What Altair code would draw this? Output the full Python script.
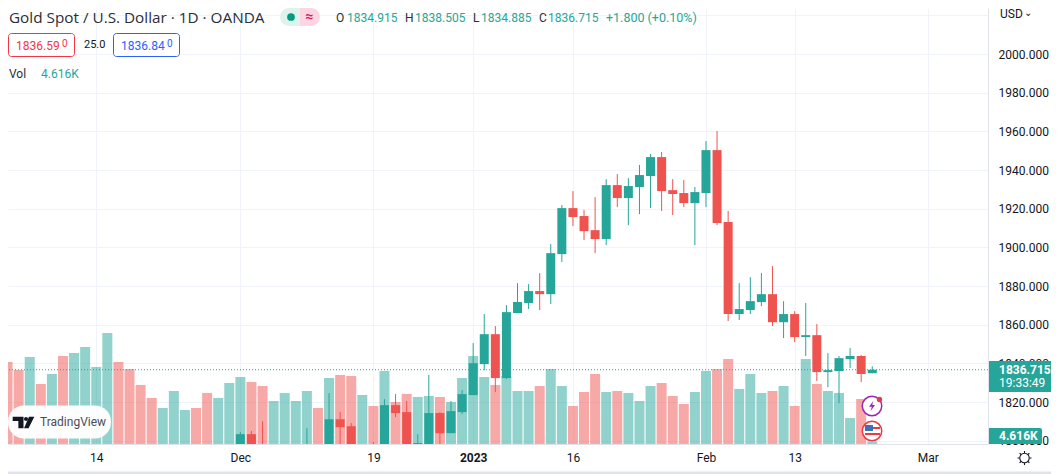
import altair as alt
import pandas as pd

# ---------- chart values ----------
volume_k = [157.7, 142.3, 167.3, 115.4, 134.6, 169.2, 175.0, 186.5, 148.1, 213.5,
            157.7, 144.2, 113.5, 88.5, 69.2, 101.9, 65.4, 69.2, 98.1, 88.5,
            117.3, 128.8, 119.2, 111.5, 82.7, 98.1, 82.7, 101.9, 69.2, 126.9,
            132.7, 130.8, 94.2, 73.1, 140.4, 80.8, 96.2, 90.4, 92.3, 90.4,
            80.8, 126.9, 169.2, 128.8, 113.5, 130.8, 101.9, 101.9, 111.5, 144.2,
            111.5, 73.1, 100.0, 134.6, 100.0, 101.9, 98.1, 82.7, 111.5, 117.3,
            92.3, 76.9, 100.0, 140.4, 144.2, 163.5, 105.8, 134.6, 98.1, 101.9,
            111.5, 73.1, 163.5, 115.4, 101.9, 98.1, 50.0, 86.5, 4.616]
direction = list("DDUDUDUUUU" "DDDDUUUDDU" "UUDDUUUUDU" "DDUDUDDUUD"
                 "UUUUDUUUDU" "UDDDUDUUUD" "DDUUDDUUUD" "UDUDUUUDU")

candle_start = 21
open_ = [1795, 1803.4, 1796, 1790, 1791, 1792, 1793, 1797, 1792, 1811.1,
         1807.5, 1795, 1796, 1790, 1818.4, 1814.8, 1797, 1796, 1814.3, 1803.9,
         1814.8, 1823.6, 1839.6, 1855.1, 1832.4, 1866.0, 1871.2, 1877.4, 1875.8, 1896.5,
         1920.3, 1916.2, 1908.9, 1904.3, 1932.2, 1925.5, 1931.2, 1936.9, 1946.7, 1929.6,
         1928.1, 1922.9, 1928.1, 1950.3, 1913.1, 1865.5, 1867.6, 1871.7, 1875.8, 1861.3,
         1865.5, 1853.6, 1854.6, 1835.5, 1836.0, 1842.2, 1843.8, 1834.915]
high = [1804.4, 1805.0, 1810.1, 1796, 1796, 1797, 1806.5, 1798, 1824.6, 1814.8,
        1809.1, 1797, 1799.3, 1821.5, 1824.1, 1820.5, 1803.4, 1834.0, 1814.8, 1820.5,
        1826.2, 1850.5, 1865.5, 1859.3, 1870.1, 1881.5, 1881.0, 1886.7, 1901.7, 1921.9,
        1929.1, 1919.3, 1926.0, 1935.3, 1937.9, 1935.8, 1942.6, 1948.3, 1949.3, 1935.3,
        1934.8, 1931.2, 1955.0, 1960.2, 1918.8, 1881.5, 1884.6, 1886.7, 1890.3, 1872.2,
        1867.0, 1871.2, 1860.3, 1845.3, 1843.8, 1847.9, 1844.3, 1838.505]
low = [1794, 1793, 1792, 1788, 1789, 1790, 1791, 1790, 1790, 1797,
       1795, 1788, 1787, 1788, 1812.2, 1795, 1792, 1794, 1797, 1803.9,
       1813.8, 1823.6, 1836.5, 1825.1, 1831.9, 1866.0, 1868.1, 1867.6, 1870.7, 1892.4,
       1911.0, 1903.8, 1897.0, 1901.2, 1920.8, 1911.5, 1917.2, 1920.3, 1918.8, 1916.7,
       1920.8, 1901.2, 1920.8, 1911.5, 1861.9, 1862.4, 1865.5, 1869.6, 1859.3, 1853.1,
       1851.0, 1843.8, 1830.9, 1827.7, 1819.4, 1837.6, 1830.3, 1834.885]
close = [1803.4, 1794, 1793, 1794, 1795, 1796, 1797, 1792, 1811.1, 1807.0,
         1796, 1796, 1790, 1818.4, 1814.3, 1797, 1798.8, 1814.3, 1803.9, 1815.3,
         1824.1, 1840.1, 1855.1, 1832.4, 1866.5, 1871.7, 1877.4, 1875.8, 1897.0, 1920.3,
         1915.7, 1908.4, 1904.3, 1932.2, 1925.5, 1931.7, 1937.4, 1946.7, 1929.1, 1927.6,
         1922.9, 1928.6, 1950.3, 1912.6, 1865.5, 1868.1, 1872.2, 1875.8, 1861.3, 1865.5,
         1853.6, 1854.6, 1835.5, 1836.5, 1842.7, 1843.8, 1834.5, 1836.715]

x_tick_index = [8, 21, 33, 42, 51, 63, 71, 83]
x_tick_labels = ["14", "Dec", "19", "2023", "16", "Feb", "13", "Mar"]
bold_tick = 42
price_ticks = list(range(1800, 2021, 20))
last_price = 1836.715

# ---------- palette ----------
TEAL, RED = "#26a69a", "#ef5350"
GRID, BORDER, INK = "#f0f3fa", "#e0e3eb", "#131722"
FONT = "Roboto"

PLOT_W, PLOT_H = 980, 436
x_scale = alt.Scale(domain=[0.04, 88.44], nice=False, zero=False, padding=0)
price_scale = alt.Scale(domain=[1798.3, 2023.8], nice=False, zero=False)
vol_scale = alt.Scale(domain=[0, 838], nice=False, zero=False)
dir_scale = alt.Scale(domain=["U", "D"], range=[TEAL, RED])

x_label_expr = "{" + ",".join(f"'{i}':'{t}'" for i, t in zip(x_tick_index, x_tick_labels)) + "}[datum.value]"
x_enc = alt.X("i:Q", scale=x_scale, title=None, axis=alt.Axis(
    values=x_tick_index, labelExpr=x_label_expr, grid=True, gridColor=GRID, gridWidth=1,
    ticks=False, domainColor=BORDER, domainWidth=1, labelFont=FONT, labelFontSize=12,
    labelColor=INK, labelPadding=8, labelOverlap=False, labelFlush=False,
    labelFontWeight={"condition": {"test": f"datum.value == {bold_tick}", "value": 700}, "value": 400}))
y_axis = alt.Axis(
    orient="right", values=price_ticks, grid=True, gridColor=GRID, gridWidth=1, ticks=False,
    domainColor=BORDER, domainWidth=1, labelFont=FONT, labelFontSize=12, labelColor=INK,
    labelPadding=10, labelAlign="left", labelOverlap=False, labelFlush=False,
    labelExpr="datum.value > 2000 ? '' : format(datum.value, '.3f')")

vol_df = pd.DataFrame({"i": range(len(volume_k)), "vol": volume_k, "dir": direction})
cdf = pd.DataFrame({"i": range(candle_start, candle_start + len(open_)),
                    "open": open_, "high": high, "low": low, "close": close})
cdf["dir"] = [direction[i] for i in cdf["i"]]

volume = alt.Chart(vol_df).mark_bar(size=10, orient="vertical", opacity=0.5, clip=True).encode(
    x=x_enc, y=alt.Y("vol:Q", scale=vol_scale, axis=None),
    color=alt.Color("dir:N", scale=dir_scale, legend=None))
wicks = alt.Chart(cdf).mark_rule(strokeWidth=1, clip=True).encode(
    x=x_enc, y=alt.Y("low:Q", scale=price_scale, axis=y_axis, title=None), y2="high:Q",
    color=alt.Color("dir:N", scale=dir_scale, legend=None))
bodies = alt.Chart(cdf).mark_bar(size=9, orient="vertical", clip=True).encode(
    x=x_enc, y=alt.Y("open:Q", scale=price_scale, axis=None), y2="close:Q",
    color=alt.Color("dir:N", scale=dir_scale, legend=None))
price_line = alt.Chart(pd.DataFrame({"p": [last_price]})).mark_rule(
    color=TEAL, strokeWidth=1, strokeDash=[1, 2]).encode(
    y=alt.Y("p:Q", scale=price_scale, axis=None))

one = pd.DataFrame({"a": [0]})


def px(x, y):
    """Reference picture position to chart position."""
    return x - 8, y - 8


def box(x0, y0, x1, y1, **kw):
    a, b = px(x0, y0)
    c, d = px(x1, y1)
    return alt.Chart(one).mark_rect(**kw).encode(
        x=alt.value(a), x2=alt.value(c), y=alt.value(b), y2=alt.value(d))


def label(x, y, s, color=INK, size=12, align="left", weight=400, font=FONT):
    a, b = px(x, y)
    return alt.Chart(one).mark_text(align=align, baseline="middle", color=color, fontSize=size,
                                    font=font, fontWeight=weight).encode(
        x=alt.value(a), y=alt.value(b), text=alt.value(s))


def glyph(x, y, shape, size, fill=None, stroke=None, sw=1.0):
    a, b = px(x, y)
    kw = {"filled": fill is not None, "shape": shape, "size": size, "opacity": 1}
    if fill is not None:
        kw["fill"] = fill
    if stroke is not None:
        kw["stroke"] = stroke
        kw["strokeWidth"] = sw
    return alt.Chart(one).mark_point(**kw).encode(x=alt.value(a), y=alt.value(b))


TV_T = "M-1.03,-.555L0,-.555L0,.555L-.49,.555L-.49,-.143L-1.03,-.143Z"
TV_DOT = "M.05,-.333A.19,.19 0 1 1 .43,-.333A.19,.19 0 1 1 .05,-.333Z"
TV_V = "M.52,-.555L1.03,-.555L.48,.555L.05,.555Z"
BOLT = "M.25,-1L-.6,.15L-.05,.15L-.25,1L.6,-.2L.05,-.2Z"
SUN_RAYS = ("M0,-1L0,-.72M0,.72L0,1M-1,0L-.72,0M.72,0L1,0"
            "M-.7,-.7L-.5,-.5M.5,.5L.7,.7M-.7,.7L-.5,.5M.5,-.5L.7,-.7")

overlays = [
    # legend rows
    label(9, 18, "Gold Spot / U.S. Dollar · 1D · OANDA", size=15.3, color="#2a2e39", font="Open Sans"),
    box(280, 8, 300, 26, fill="#dff3ee", cornerRadiusTopLeft=9, cornerRadiusBottomLeft=9),
    box(300, 8, 320, 26, fill="#fcd5e2", cornerRadiusTopRight=9, cornerRadiusBottomRight=9),
    glyph(291, 17, "circle", 60, fill="#089981"),
    label(309.5, 17, "≈", color="#d81b60", size=14, align="center", weight=700),
    label(336, 18, "O", color="#2a2e39"),
    label(347, 18, "1834.915", color=TEAL),
    label(405, 18, "H", color="#2a2e39"),
    label(415, 18, "1838.505", color=TEAL),
    label(473, 18, "L", color="#2a2e39"),
    label(481, 18, "1834.885", color=TEAL),
    label(539, 18, "C", color="#2a2e39"),
    label(548, 18, "1836.715", color=TEAL),
    label(606, 18, "+1.800 (+0.10%)", color=TEAL, size=12.5),
    box(8.5, 33.5, 74.5, 56.5, fill="#ffffff", stroke="#f23645", cornerRadius=3),
    label(16, 46, "1836.59", color="#f23645"),
    label(62, 44, "0", color="#f23645", size=10),
    label(84, 45, "25.0", size=11),
    box(113.5, 33.5, 179.5, 56.5, fill="#ffffff", stroke="#2962ff", cornerRadius=3),
    label(121, 46, "1836.84", color="#2962ff"),
    label(167, 44, "0", color="#2962ff", size=10),
    label(9, 74, "Vol", color="#2a2e39"),
    label(41, 74, "4.616K", color=TEAL),
    # price scale extras
    label(1000, 14, "USD", size=12),
    label(1024, 13, "⌄", size=10, font="DejaVu Sans"),
    box(989, 361, 1051, 392, fill=TEAL),
    label(999, 370, "1836.715", color="#ffffff", weight=700),
    label(999, 383, "19:33:49", color="#ffffff", size=12, weight=400),
    box(989, 428, 1042, 444, fill=TEAL, cornerRadiusTopRight=2, cornerRadiusBottomRight=2),
    label(999, 436, "4.616K", color="#ffffff", weight=700),
    # TradingView badge
    box(8, 405.5, 111, 438.5, fill="#ffffff", opacity=0.96, cornerRadius=16),
    glyph(23.5, 422.5, TV_T, 441, fill="#131722"),
    glyph(23.5, 422.5, TV_DOT, 441, fill="#131722"),
    glyph(23.5, 422.5, TV_V, 441, fill="#131722"),
    label(40, 422, "TradingView", color="#4a4d57", size=12),
    # event markers
    glyph(872, 406, "circle", 380, fill="#ffffff", stroke="#9c27b0", sw=1.5),
    glyph(872, 406, BOLT, 100, fill="#9c27b0"),
    glyph(879.5, 399.5, "circle", 28, fill="#f23645"),
    glyph(872, 431, "circle", 380, fill="#ffffff", stroke="#f23645", sw=1.5),
    box(865, 425, 873, 431, fill="#3f6fb5"),
    box(873, 427, 880, 429, fill="#f23645"),
    box(865, 433, 880, 435, fill="#f23645"),
    # settings gear
    glyph(1024.5, 458, "circle", 90, fill="#ffffff", stroke="#131722", sw=1.1),
    glyph(1024.5, 458, SUN_RAYS, 196, stroke="#131722", sw=1.1),
    # bottom frame of the widget
    box(8, 471.5, 1051, 474, fill=BORDER),
]

chart = (alt.layer(volume, wicks, bodies, price_line, *overlays)
         .resolve_scale(y="independent", x="shared")
         .properties(width=PLOT_W, height=PLOT_H,
                     padding={"left": 0, "top": 0, "right": 63, "bottom": 30},
                     autosize=alt.AutoSizeParams(type="none"),
                     background="#ffffff")
         .configure_view(stroke=None))

chart.save("out.html", embed_options={"renderer": "svg", "actions": False})
